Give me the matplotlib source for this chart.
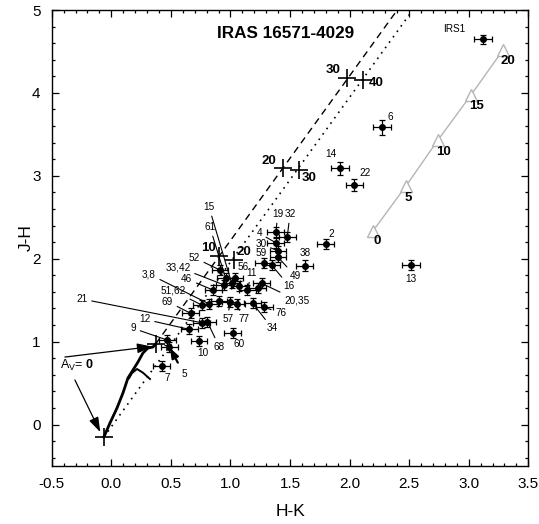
import numpy as np
import matplotlib.pyplot as plt

plt.rcParams['font.family'] = ['Liberation Sans', 'DejaVu Sans']
plt.rcParams['mathtext.fontset'] = 'custom'
plt.rcParams['mathtext.rm'] = 'Liberation Sans'
plt.rcParams['mathtext.bf'] = 'Liberation Sans:bold'

# sources: H-K, J-H and errors
hk = [3.117, 2.270, 1.918, 2.038, 1.800, 2.513, 1.624, 1.381, 1.477, 1.381, 1.400, 1.400, 1.280, 1.345,
      0.912, 0.960, 1.038, 0.948, 1.011, 1.072, 1.141, 1.262, 1.229, 0.856, 0.904, 0.996, 0.823, 0.759,
      1.052, 1.187, 1.284, 0.667, 0.759, 0.806, 0.655, 0.736, 1.019, 0.470, 0.487, 0.424]
jh = [4.647, 3.585, 3.090, 2.889, 2.174, 1.924, 1.916, 2.326, 2.265, 2.193, 2.096, 2.017, 1.945, 1.924,
      1.864, 1.764, 1.764, 1.683, 1.703, 1.674, 1.622, 1.703, 1.643, 1.622, 1.493, 1.481, 1.454, 1.442,
      1.450, 1.462, 1.417, 1.341, 1.228, 1.240, 1.148, 1.007, 1.100, 1.019, 0.938, 0.706]
hk_err = [0.075, 0.077, 0.075, 0.072, 0.072, 0.074, 0.072, 0.07, 0.07, 0.07, 0.07, 0.07, 0.07, 0.07,
          0.07, 0.07, 0.07, 0.07, 0.07, 0.07, 0.07, 0.07, 0.07, 0.07, 0.07, 0.07, 0.07, 0.07,
          0.07, 0.07, 0.07, 0.07, 0.07, 0.07, 0.07, 0.07, 0.07, 0.07, 0.07, 0.07]
jh_err = [0.055, 0.09, 0.075, 0.075, 0.06, 0.06, 0.07, 0.06, 0.06, 0.06, 0.06, 0.06, 0.06, 0.06,
          0.06, 0.06, 0.06, 0.06, 0.06, 0.06, 0.06, 0.06, 0.06, 0.06, 0.06, 0.06, 0.06, 0.06,
          0.06, 0.06, 0.06, 0.06, 0.06, 0.06, 0.06, 0.06, 0.06, 0.06, 0.06, 0.06]
names = ['IRS1', '6', '14', '22', '2', '13', '38', '19', '32', '4', '30', '49', '59', '16',
         '52', '61', '56', '33,42', '15', '', '11', '20,35', '', '46', '', '57', '3,8', '51,62',
         '77', '34', '76', '69', '21', '68', '12', '10', '60', '9', '5', '7']

# where each name is written
label_pos = {
    'IRS1': (2.876, 4.771), '6': (2.339, 3.715), '14': (1.844, 3.269), '22': (2.129, 3.034),
    '2': (1.844, 2.298), '13': (2.515, 1.755), '38': (1.626, 2.069), '19': (1.399, 2.539),
    '32': (1.500, 2.539), '4': (1.242, 2.306), '30': (1.256, 2.177), '59': (1.256, 2.065),
    '49': (1.542, 1.795), '16': (1.494, 1.671), '20,35': (1.556, 1.502), '76': (1.422, 1.341),
    '34': (1.351, 1.160), '77': (1.114, 1.269), '57': (0.977, 1.269), '60': (1.074, 0.967),
    '68': (0.906, 0.938), '10': (0.772, 0.859), '5': (0.610, 0.609), '7': (0.470, 0.557),
    '9': (0.185, 1.160), '12': (0.283, 1.269), '21': (-0.246, 1.514), '69': (0.472, 1.484),
    '51,62': (0.520, 1.614), '46': (0.633, 1.755), '3,8': (0.316, 1.815), '33,42': (0.560, 1.900),
    '52': (0.697, 2.012), '15': (0.820, 2.624), '61': (0.828, 2.382), '56': (1.103, 1.904),
    '11': (1.178, 1.824),
}
no_leader = ['IRS1', '6', '14', '22', '2', '13', '38', '60', '10', '7']

# intrinsic loci
ms_hk = [-0.062, -0.011, 0.048, 0.098, 0.140, 0.182, 0.224, 0.266, 0.308, 0.350, 0.372]
ms_jh = [-0.151, 0.018, 0.199, 0.380, 0.561, 0.657, 0.754, 0.863, 0.923, 0.935, 0.971]
gi_hk = [0.150, 0.174, 0.216, 0.266, 0.325]
gi_jh = [0.56, 0.621, 0.670, 0.625, 0.549]

# reddening vectors
dash_hk = [0.372, 2.40]
dash_jh = [0.971, 5.0]
dot_hk = [-0.062, 2.53]
dot_jh = [-0.151, 5.0]
dash_av_hk = [0.372, 0.905, 1.44, 1.975]
dash_av_jh = [0.971, 2.03, 3.10, 4.175]
dot_av_hk = [-0.062, 1.03, 1.572, 2.112]
dot_av_jh = [-0.151, 1.99, 3.075, 4.16]
av_labels = {'10': (0.812, 2.129), '20': (1.323, 3.184), '30': (1.861, 4.276)}
av_labels_dot = {'20': (1.110, 2.084), '30': (1.662, 2.970), '40': (2.227, 4.116)}

# triangles along gray vector
tri_hk = [2.196, 2.473, 2.742, 3.019, 3.287]
tri_jh = [2.334, 2.877, 3.432, 3.975, 4.517]
tri_labels = ['0', '5', '10', '15', '20']
tri_label_pos = [(2.232, 2.217), (2.493, 2.729), (2.786, 3.291), (3.061, 3.842), (3.332, 4.388)]

fig = plt.figure(figsize=(5.39, 5.24), dpi=100)
ax = fig.add_axes([0.0959, 0.1107, 0.8843, 0.8702])

ax.plot(dash_hk, dash_jh, color='k', ls=(0, (5, 3.5)), lw=1.0)
ax.plot(dot_hk, dot_jh, color='k', ls=(0, (1, 3)), lw=1.2)
ax.plot(ms_hk, ms_jh, color='k', lw=2.0)
ax.plot(gi_hk, gi_jh, color='k', lw=1.4)
ax.plot(dash_av_hk, dash_av_jh, ls='none', marker='+', ms=13, mew=1.2, color='k')
ax.plot(dot_av_hk, dot_av_jh, ls='none', marker='+', ms=13, mew=1.2, color='k')
for t, (x, y) in av_labels.items():
    ax.text(x, y, t, fontsize=9.5, fontweight='bold', ha='center', va='center')
for t, (x, y) in av_labels_dot.items():
    ax.text(x, y, t, fontsize=9.5, fontweight='bold', ha='center', va='center')

ax.plot(tri_hk, tri_jh, color='#b5b5b5', lw=1.0, marker='^', ms=9, mfc='white', mec='#b5b5b5', mew=1.0)
for t, (x, y) in zip(tri_labels, tri_label_pos):
    ax.text(x, y, t, fontsize=9.5, fontweight='bold', ha='center', va='center')

ax.errorbar(hk, jh, xerr=hk_err, yerr=jh_err, fmt='o', color='k', ms=4,
            elinewidth=0.9, capsize=2.5, capthick=0.9)

for x, y, n in zip(hk, jh, names):
    if not n:
        continue
    lx, ly = label_pos[n]
    fs = 7.2
    if n in no_leader:
        ax.text(lx, ly, n, fontsize=fs, ha='center', va='center')
    elif n == '5':
        ax.annotate(n, xy=(x, y), xytext=(lx, ly), fontsize=fs, ha='center', va='center',
                    arrowprops=dict(arrowstyle='-|>,head_length=0.8,head_width=0.3', lw=1.6,
                                    color='k', shrinkA=3, shrinkB=1))
    else:
        ax.annotate(n, xy=(x, y), xytext=(lx, ly), fontsize=fs, ha='center', va='center',
                    arrowprops=dict(arrowstyle='-', lw=0.8, color='k', shrinkA=1, shrinkB=1))

# A_V = 0 pointers
ax.text(-0.288, 0.718, r'A$_\mathrm{V}$= $\mathbf{0}$', fontsize=9, ha='center', va='center')
ax.annotate('', xy=(ms_hk[-1] - 0.03, ms_jh[-1] - 0.03), xytext=(-0.389, 0.814),
            arrowprops=dict(arrowstyle='-|>,head_length=0.9,head_width=0.3', lw=0.9, color='k',
                            shrinkA=0, shrinkB=0))
ax.annotate('', xy=(ms_hk[0] - 0.03, ms_jh[0] + 0.06), xytext=(-0.305, 0.537),
            arrowprops=dict(arrowstyle='-|>,head_length=0.9,head_width=0.3', lw=0.9, color='k',
                            shrinkA=0, shrinkB=0))

ax.text(1.466, 4.717, 'IRAS 16571-4029', fontsize=12.3, fontweight='bold', ha='center', va='center')

ax.set_xlim(-0.5, 3.5)
ax.set_ylim(-0.5, 5)
ax.set_xticks(np.arange(-0.5, 3.51, 0.5))
ax.set_xticklabels(['-0.5', '0.0', '0.5', '1.0', '1.5', '2.0', '2.5', '3.0', '3.5'])
ax.set_yticks(np.arange(0, 5.1, 1))
ax.set_xticks(np.arange(-0.5, 3.51, 0.1), minor=True)
ax.set_yticks(np.arange(-0.4, 5.0, 0.2), minor=True)
ax.tick_params(which='both', direction='in', top=True, right=True, labelsize=11, width=0.9)
ax.tick_params(which='major', length=5, pad=8)
ax.tick_params(which='minor', length=2.5)
for s in ax.spines.values():
    s.set_linewidth(1.0)
ax.set_xlabel('H-K', fontsize=12.5, labelpad=9)
ax.set_ylabel('J-H', fontsize=12.5, labelpad=-1)

fig.savefig('out.png', dpi=100)
